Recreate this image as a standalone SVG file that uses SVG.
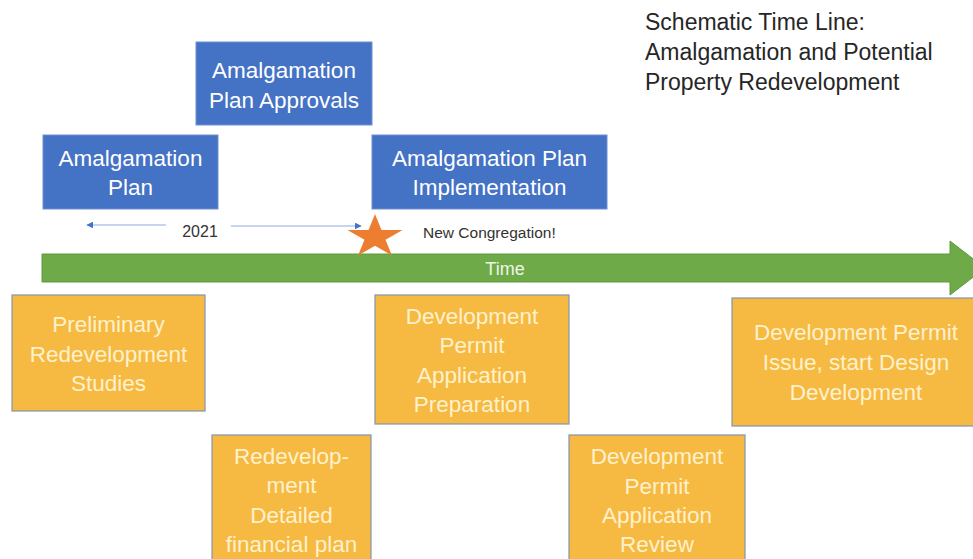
<svg xmlns="http://www.w3.org/2000/svg" width="973" height="559" viewBox="0 0 973 559">
  <defs>
    <style>
      .blue rect { fill: #4472C4; stroke: #6F8FD0; stroke-width: 1; }
      .gold rect { fill: #F6BA43; stroke: #8495AD; stroke-width: 1.2; }
      .blue text { fill: #FFFFFF; font-family: "Liberation Sans", Arial, sans-serif; font-size: 22.5px; text-anchor: middle; }
      .gold text { fill: #FFF1CC; font-family: "Liberation Sans", Arial, sans-serif; font-size: 22.5px; text-anchor: middle; }
      .title { fill: #262626; font-family: "Liberation Sans", Arial, sans-serif; font-size: 23px; }
      .note { fill: #333333; font-family: "Liberation Sans", Arial, sans-serif; }
      .span { stroke: #8FAADC; stroke-width: 1.2; fill: none; }
    </style>
    <marker id="tip" viewBox="0 0 10 10" refX="9" refY="5" markerWidth="7" markerHeight="7" orient="auto-start-reverse" markerUnits="userSpaceOnUse">
      <path d="M0,0 L10,5 L0,10 Z" fill="#4472C4"/>
    </marker>
  </defs>

  <rect width="973" height="559" fill="#FFFFFF"/>

  <!-- Title -->
  <g id="title">
    <text class="title" x="645" y="30">Schematic Time Line:</text>
    <text class="title" x="645" y="60">Amalgamation and Potential</text>
    <text class="title" x="645" y="90">Property Redevelopment</text>
  </g>

  <!-- Amalgamation phases -->
  <g id="amalgamation-plan" class="blue">
    <rect x="43" y="135" width="175" height="74"/>
    <text x="130.5" y="166">Amalgamation</text>
    <text x="130.5" y="195">Plan</text>
  </g>
  <g id="plan-approvals" class="blue">
    <rect x="196" y="42" width="176" height="83"/>
    <text x="284" y="78">Amalgamation</text>
    <text x="284" y="108">Plan Approvals</text>
  </g>
  <g id="plan-implementation" class="blue">
    <rect x="372" y="135" width="235" height="74"/>
    <text x="489.5" y="166">Amalgamation Plan</text>
    <text x="489.5" y="195">Implementation</text>
  </g>

  <!-- Time axis and year span -->
  <g id="connectors">
    <line class="span" x1="87" y1="225" x2="166" y2="225" marker-start="url(#tip)"/>
    <line class="span" x1="231" y1="226" x2="361" y2="226" marker-end="url(#tip)"/>
    <path id="time-arrow" d="M42,254 H950 V241 L985,268 L950,295 V282 H42 Z" fill="#6EAA47" stroke="#5E9A3C" stroke-width="1"/>
  </g>
  <text class="note" x="200" y="237" font-size="16" text-anchor="middle">2021</text>
  <text x="505" y="275" fill="#EEF5E8" font-family="'Liberation Sans', Arial, sans-serif" font-size="18" text-anchor="middle">Time</text>

  <!-- Milestone -->
  <g id="new-congregation">
    <polygon points="375,214 381.5,229.9 402.6,229.9 385.5,239.7 392,255.6 375,245.8 358,255.6 364.5,239.7 347.4,229.9 368.5,229.9" fill="#ED7D31"/>
    <text class="note" x="423" y="238" font-size="15.5">New Congregation!</text>
  </g>

  <!-- Redevelopment phases -->
  <g id="preliminary-studies" class="gold">
    <rect x="12" y="295" width="193" height="116"/>
    <text x="108.5" y="332">Preliminary</text>
    <text x="108.5" y="362">Redevelopment</text>
    <text x="108.5" y="391">Studies</text>
  </g>
  <g id="financial-plan" class="gold">
    <rect x="212" y="435" width="159" height="130"/>
    <text x="291.5" y="464">Redevelop-</text>
    <text x="291.5" y="493">ment</text>
    <text x="291.5" y="523">Detailed</text>
    <text x="291.5" y="552">financial plan</text>
  </g>
  <g id="permit-preparation" class="gold">
    <rect x="375" y="295" width="194" height="129"/>
    <text x="472" y="324">Development</text>
    <text x="472" y="353">Permit</text>
    <text x="472" y="383">Application</text>
    <text x="472" y="412">Preparation</text>
  </g>
  <g id="permit-review" class="gold">
    <rect x="569" y="435" width="176" height="130"/>
    <text x="657" y="464">Development</text>
    <text x="657" y="494">Permit</text>
    <text x="657" y="523">Application</text>
    <text x="657" y="552">Review</text>
  </g>
  <g id="permit-issue" class="gold">
    <rect x="732" y="298" width="250" height="128"/>
    <text x="856" y="340">Development Permit</text>
    <text x="856" y="370">Issue, start Design</text>
    <text x="856" y="400">Development</text>
  </g>
</svg>
